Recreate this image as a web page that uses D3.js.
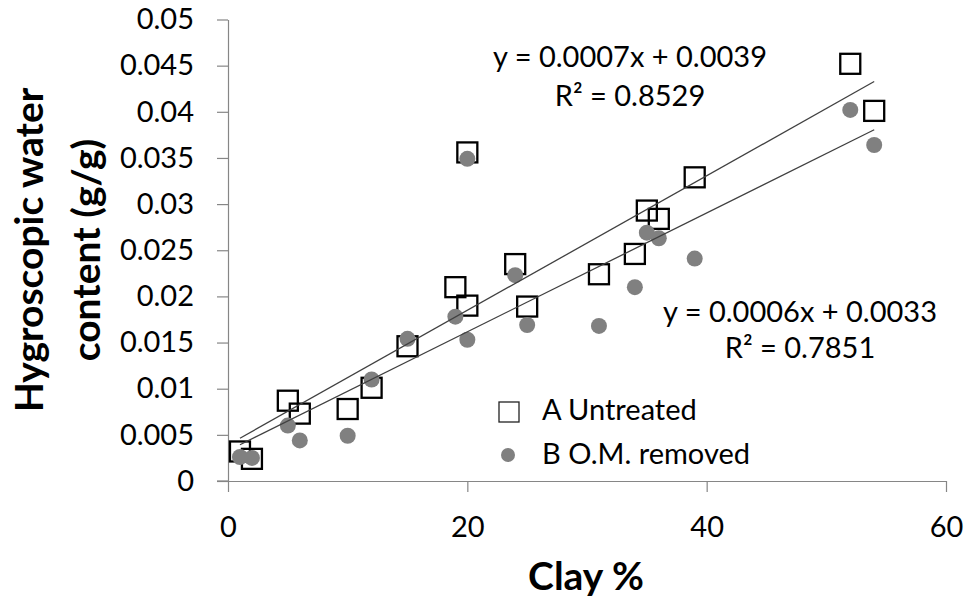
<!DOCTYPE html>
<meta charset="utf-8">
<script src="https://d3js.org/d3.v7.min.js"></script>
<style>
  body { margin: 0; background: #fff; }
  text { font-family: Lato, "Open Sans", sans-serif; fill: #000; }
  .axis path, .axis line { stroke: #868686; stroke-width: 1.2; }
</style>
<body>
<script>

// clay % for each sample (same samples in both series)
var clay = [1, 2, 5, 6, 10, 12, 15, 19, 20, 20, 24, 25, 31, 34, 35, 36, 39, 52, 54];
// A untreated, hygroscopic water (g/g)
var waterA = [0.0032, 0.0024, 0.0087, 0.0073, 0.0078, 0.0101, 0.0146, 0.0210, 0.0190, 0.0356,
              0.0235, 0.0189, 0.0224, 0.0246, 0.0293, 0.0284, 0.0329, 0.0452, 0.0401];
// B organic matter removed
var waterB = [0.0026, 0.0025, 0.0060, 0.0044, 0.0049, 0.0110, 0.0154, 0.0178, 0.0153, 0.0349,
              0.0223, 0.0169, 0.0168, 0.0210, 0.0269, 0.0263, 0.0241, 0.0402, 0.0364];

var xTicks = [0, 20, 40, 60];
var yTicks = [0, 0.005, 0.01, 0.015, 0.02, 0.025, 0.03, 0.035, 0.04, 0.045, 0.05];
var seriesNames = ["A Untreated", "B O.M. removed"];
var eqA = ["y = 0.0007x + 0.0039", "R\u00b2 = 0.8529"];
var eqB = ["y = 0.0006x + 0.0033", "R\u00b2 = 0.7851"];

var W = 967, H = 598;

var svg = d3.select("body").append("svg")
    .attr("width", W)
    .attr("height", H);

var x = d3.scaleLinear().domain([0, 60]).range([228, 946]);
var y = d3.scaleLinear().domain([0, 0.05]).range([481, 19.5]);

// axes
svg.append("g")
    .attr("class", "axis")
    .attr("transform", "translate(0," + y(0) + ")")
    .call(d3.axisBottom(x).tickValues(xTicks).tickSize(11).tickSizeOuter(0).tickPadding(24))
    .call(g => g.selectAll("text").style("font-size", "29px").style("font-family", "Lato"));

svg.append("g")
    .attr("class", "axis")
    .attr("transform", "translate(" + x(0) + ",0)")
    .call(d3.axisLeft(y).tickValues(yTicks).tickSize(11).tickSizeOuter(0).tickPadding(23)
      .tickFormat(d => String(+d.toFixed(3))))
    .call(g => g.selectAll("text").style("font-size", "29px").style("font-family", "Lato"));

// x axis line extends left over the y tick
svg.append("line")
    .attr("x1", x(0) - 11).attr("x2", x(0))
    .attr("y1", y(0)).attr("y2", y(0))
    .attr("stroke", "#868686").attr("stroke-width", 1.2);

// axis titles
svg.append("text")
    .attr("x", 586).attr("y", 590)
    .attr("text-anchor", "middle")
    .style("font-size", "39px").style("font-weight", "bold")
    .text("Clay %");

var yt = svg.append("text")
    .attr("transform", "translate(0,250) rotate(-90)")
    .attr("text-anchor", "middle")
    .style("font-size", "39px").style("font-weight", "bold");
yt.append("tspan").attr("x", 0).attr("y", 43).text("Hygroscopic water");
yt.append("tspan").attr("x", 0).attr("y", 100).text("content (g/g)");

// least squares fit
function fit(xs, ys) {
  var mx = d3.mean(xs), my = d3.mean(ys);
  var sxy = d3.sum(xs, (v, i) => (v - mx) * (ys[i] - my));
  var sxx = d3.sum(xs, v => (v - mx) * (v - mx));
  var b = sxy / sxx;
  return { b: b, a: my - b * mx };
}

var ptsA = clay.map((c, i) => [c, waterA[i]]);
var ptsB = clay.map((c, i) => [c, waterB[i]]);

// squares (A)
var sq = 20;
svg.append("g").selectAll("rect")
  .data(ptsA)
  .enter().append("rect")
    .attr("x", d => x(d[0]) - sq / 2)
    .attr("y", d => y(d[1]) - sq / 2)
    .attr("width", sq).attr("height", sq)
    .attr("fill", "none")
    .attr("stroke", "#000")
    .attr("stroke-width", 2.3);

// circles (B)
svg.append("g").selectAll("circle")
  .data(ptsB)
  .enter().append("circle")
    .attr("cx", d => x(d[0]))
    .attr("cy", d => y(d[1]))
    .attr("r", 8)
    .attr("fill", "#808080");

// trend lines
[clay].forEach(function() {});
[[waterA], [waterB]].forEach(function(s) {
  var f = fit(clay, s[0]);
  var x0 = d3.min(clay), x1 = d3.max(clay);
  svg.append("line")
    .attr("x1", x(x0)).attr("y1", y(f.a + f.b * x0))
    .attr("x2", x(x1)).attr("y2", y(f.a + f.b * x1))
    .attr("stroke", "#404040")
    .attr("stroke-width", 1.3);
});

// equations
function eq(lines, cx, y1, y2) {
  svg.append("text").attr("x", cx).attr("y", y1).attr("text-anchor", "middle")
    .style("font-size", "29px").text(lines[0]);
  svg.append("text").attr("x", cx).attr("y", y2).attr("text-anchor", "middle")
    .style("font-size", "29px").text(lines[1]);
}
eq(eqA, 630, 67, 106);
eq(eqB, 800, 322, 358);

// legend
var lg = svg.append("g");
lg.append("rect")
    .attr("x", 499).attr("y", 402).attr("width", 20).attr("height", 20)
    .attr("fill", "none").attr("stroke", "#222").attr("stroke-width", 1.3);
lg.append("circle")
    .attr("cx", 508).attr("cy", 455).attr("r", 7)
    .attr("fill", "#808080");
lg.selectAll("text.lab")
  .data(seriesNames)
  .enter().append("text")
    .attr("class", "lab")
    .attr("x", 542)
    .attr("y", (d, i) => 420 + i * 44)
    .style("font-size", "29px")
    .text(d => d);

</script>
</body>
</html>
